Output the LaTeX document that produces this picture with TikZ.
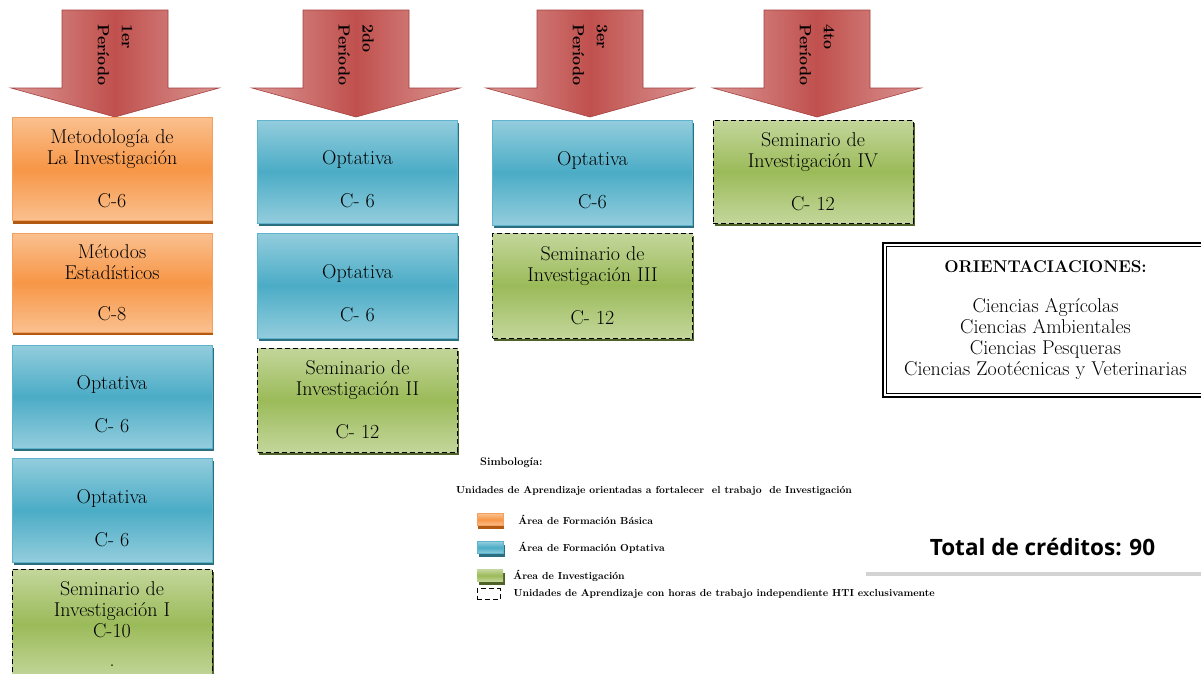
\documentclass[tikz,border=0pt]{standalone}
\usepackage{fontspec}
\newfontfamily\totalfont{Open Sans}
\usetikzlibrary{positioning}
\usetikzlibrary{shadows}

\definecolor{rojoclaro}{HTML}{DA9694}
\definecolor{rojomedio}{HTML}{C0504D}
\definecolor{rojoborde}{HTML}{A5423F}
\definecolor{naranjaclaro}{HTML}{FAC08F}
\definecolor{naranjamedio}{HTML}{F79646}
\definecolor{naranjaborde}{HTML}{F4A060}
\definecolor{naranjasombra}{HTML}{B25A12}
\definecolor{azulclaro}{HTML}{93CDDD}
\definecolor{azulmedio}{HTML}{4BACC6}
\definecolor{azulborde}{HTML}{5DB4CC}
\definecolor{azulsombra}{HTML}{2B6E80}
\definecolor{verdeclaro}{HTML}{C3D69B}
\definecolor{verdemedio}{HTML}{9BBB59}
\definecolor{verdesombra}{HTML}{4F6228}

\tikzset{
  periodo/.style={draw=rojoborde, line width=0.6pt, left color=rojoclaro, right color=rojoclaro, middle color=rojomedio},
  periodotxt/.style={rotate=-90, align=left, font=\bfseries\fontsize{16}{24}\selectfont},
  unidad/.style={minimum width=200pt, minimum height=103pt, inner sep=0pt, align=center, font=\fontsize{20}{21}\selectfont},
  naranja/.style={draw=naranjaborde, top color=naranjaclaro, bottom color=naranjaclaro, middle color=naranjamedio,
    drop shadow={shadow xshift=1pt, shadow yshift=-3pt, fill=naranjasombra, opacity=1}},
  azul/.style={draw=azulborde, top color=azulclaro, bottom color=azulclaro, middle color=azulmedio,
    drop shadow={shadow xshift=1.5pt, shadow yshift=-3pt, fill=azulsombra, opacity=1}},
  verde/.style={top color=verdeclaro, bottom color=verdeclaro, middle color=verdemedio,
    drop shadow={shadow xshift=1.5pt, shadow yshift=-3pt, fill=verdesombra, opacity=1}},
  hti/.style={draw=black, line width=1pt, dash pattern=on 5pt off 3pt},
  simbolo/.style={minimum width=26pt, minimum height=12pt, inner sep=0pt},
  leyenda/.style={anchor=west, inner sep=0pt, font=\bfseries\fontsize{10.2}{12}\selectfont},
}
% texto de las optativas, bajado un poco dentro de la caja
\newcommand{\optativa}[1]{\rule{0pt}{30pt}Optativa\\[22pt]#1}

\begin{document}
\begin{tikzpicture}[x=1pt,y=-1pt]
  \useasboundingbox (0,0) rectangle (1201,673);
  \clip (0,0) rectangle (1201,673);

  % Flechas de los periodos
  \foreach \cx/\num [count=\i] in {115/1er, 356/2do, 590/3er, 817/4to}{
    \draw[periodo] (\cx-53,10) -- (\cx+53,10) -- (\cx+53,88) -- (\cx+104,88) -- (\cx,117)
      -- (\cx-104,88) -- (\cx-53,88) -- cycle;
    \node[periodotxt] (p\i) at (\cx,55) {\num\\Período};
  }

  % Primer periodo
  \node[unidad, naranja] (metodologia) at (112,169) {Metodología de\\La Investigación\\[22pt]C-6};
  \node[unidad, naranja, minimum height=99pt] (metodos) at (112,282.5) {Métodos\\Estadísticos\\[20pt]C-8};
  \node[unidad, azul] (opt11) at (112,396.5) {\optativa{C- 6}};
  \node[unidad, azul, minimum height=104pt] (opt12) at (112,510) {\optativa{C- 6}};
  \node[unidad, verde, hti, minimum height=110pt] (sem1) at (112,624) {Seminario de\\Investigación I\\C-10\\[8pt].};

  % Segundo periodo
  \node[unidad, azul] (opt21) at (357.5,171.5) {\optativa{C- 6}};
  \node[unidad, azul, minimum height=105pt] (opt22) at (357.5,285.5) {\optativa{C- 6}};
  \node[unidad, verde, hti, minimum height=104pt] (sem2) at (357.5,400) {Seminario de\\Investigación II\\[22pt]C- 12};

  % Tercer periodo
  \node[unidad, azul, minimum height=105pt] (opt31) at (592.5,172.5) {\optativa{C-6}};
  \node[unidad, verde, hti, minimum height=105pt] (sem3) at (592.5,285.5) {Seminario de\\Investigación III\\[22pt]C- 12};

  % Cuarto periodo
  \node[unidad, verde, hti] (sem4) at (813,171.5) {Seminario de\\Investigación IV\\[22pt]C- 12};

  % Orientaciones
  \node[draw, line width=2.5pt, fill=white, minimum width=325pt, minimum height=154pt, align=center,
    font=\fontsize{20}{21}\selectfont] (ori) at (1045.5,320)
    {{\bfseries\fontsize{17}{21}\selectfont ORIENTACIACIONES:}\\[19pt]Ciencias Agrícolas\\Ciencias Ambientales\\Ciencias Pesqueras\\Ciencias Zootécnicas y Veterinarias};
  \draw[line width=0.8pt] ([shift={(5,5)}]ori.north west) rectangle ([shift={(-5,-5)}]ori.south east);

  % Simbologia
  \node[leyenda, font=\bfseries\fontsize{11}{12}\selectfont] (simb) at (480,463) {Simbología:};
  \node[leyenda] (leg0) at (456,491) {Unidades de Aprendizaje orientadas a fortalecer\ \ el trabajo\ \ de Investigación};
  \node[simbolo, naranja] (sw1) at (490,519.5) {};
  \node[simbolo, azul] (sw2) at (490,547.5) {};
  \node[simbolo, verde] (sw3) at (490,575.5) {};
  \node[simbolo, hti, line width=0.8pt, minimum width=23pt, minimum height=11pt] (sw4) at (488.5,594) {};
  \node[leyenda, right=15pt of sw1] (leg1) {Área de Formación Básica};
  \node[leyenda, right=15pt of sw2] (leg2) {Área de Formación Optativa};
  \node[leyenda, right=10pt of sw3] (leg3) {Área de Investigación};
  \node[leyenda, right=13pt of sw4] (leg4) {Unidades de Aprendizaje con horas de trabajo independiente HTI exclusivamente};

  % Total
  \node[fill=white, minimum width=343pt, minimum height=49pt, font=\totalfont\bfseries\fontsize{22.5}{26}\selectfont,
    drop shadow={shadow xshift=1pt, shadow yshift=-4pt, fill=black!50, opacity=.35}] (total) at (1036.5,547.5)
    {\hspace*{12pt}Total de créditos: 90};
\end{tikzpicture}
\end{document}
